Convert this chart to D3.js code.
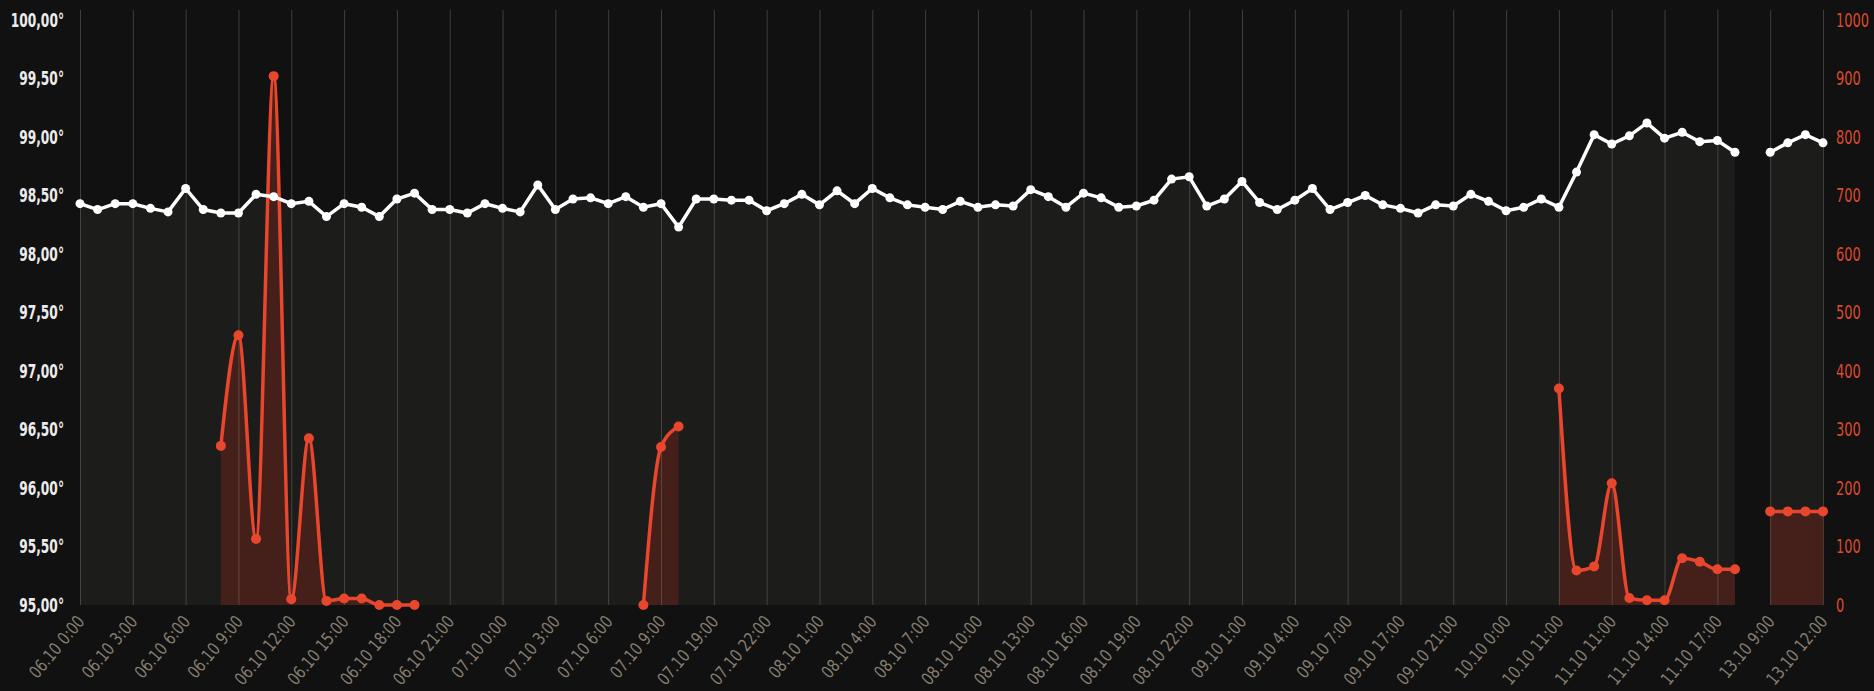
<!DOCTYPE html>
<html>
<head>
<meta charset="utf-8">
<script src="https://cdn.jsdelivr.net/npm/d3@7/dist/d3.min.js"></script>
<style>
  body { margin: 0; background: #111111; }
  svg { display: block; }
  .lbl { font-family: "DejaVu Sans Condensed", "DejaVu Sans", sans-serif; }
</style>
</head>
<body>
<svg id="chart" width="1874" height="691"></svg>
<script>
// tick labels, one for every third reading
var tickLabels = [
  "06.10 0:00", "06.10 3:00", "06.10 6:00", "06.10 9:00", "06.10 12:00", "06.10 15:00",
  "06.10 18:00", "06.10 21:00", "07.10 0:00", "07.10 3:00", "07.10 6:00", "07.10 9:00",
  "07.10 19:00", "07.10 22:00", "08.10 1:00", "08.10 4:00", "08.10 7:00", "08.10 10:00",
  "08.10 13:00", "08.10 16:00", "08.10 19:00", "08.10 22:00", "09.10 1:00", "09.10 4:00",
  "09.10 7:00", "09.10 17:00", "09.10 21:00", "10.10 0:00", "10.10 11:00", "11.10 11:00",
  "11.10 14:00", "11.10 17:00", "13.10 9:00", "13.10 12:00"
];

// temperature readings (left axis)
var temperature = [
  98.43, 98.38, 98.43, 98.43, 98.39, 98.36, 98.56, 98.38, 98.35, 98.35,
  98.51, 98.49, 98.43, 98.45, 98.32, 98.43, 98.40, 98.32, 98.47, 98.52,
  98.38, 98.38, 98.35, 98.43, 98.39, 98.36, 98.59, 98.38, 98.47, 98.48,
  98.43, 98.49, 98.40, 98.43, 98.23, 98.47, 98.47, 98.46, 98.46, 98.37,
  98.43, 98.51, 98.42, 98.54, 98.43, 98.56, 98.48, 98.42, 98.40, 98.38,
  98.45, 98.40, 98.42, 98.41, 98.55, 98.49, 98.40, 98.52, 98.48, 98.40,
  98.41, 98.46, 98.64, 98.66, 98.41, 98.47, 98.62, 98.44, 98.38, 98.46,
  98.56, 98.38, 98.44, 98.50, 98.42, 98.39, 98.35, 98.42, 98.41, 98.51,
  98.45, 98.37, 98.40, 98.47, 98.40, 98.70, 99.02, 98.94, 99.01, 99.12,
  98.99, 99.04, 98.96, 98.97, 98.87, null, 98.87, 98.95, 99.02, 98.95
];

// second series (right axis), null where nothing was recorded
var activity = [
  null, null, null, null, null, null, null, null, 272, 461,
  113, 904, 10, 285, 7, 11, 11, 0, 0, 0,
  null, null, null, null, null, null, null, null, null, null,
  null, null, 0, 270, 305, null, null, null, null, null,
  null, null, null, null, null, null, null, null, null, null,
  null, null, null, null, null, null, null, null, null, null,
  null, null, null, null, null, null, null, null, null, null,
  null, null, null, null, null, null, null, null, null, null,
  null, null, null, null, 370, 59, 66, 208, 12, 8,
  8, 80, 74, 61, 61, null, 160, 160, 160, 160
];

var leftTicks = [95, 95.5, 96, 96.5, 97, 97.5, 98, 98.5, 99, 99.5, 100];
var rightTicks = [0, 100, 200, 300, 400, 500, 600, 700, 800, 900, 1000];

var svg = d3.select("#chart");
var plotTop = 10, plotBottom = 605, plotLeft = 80, plotRight = 1823;

var x = d3.scalePoint().domain(d3.range(temperature.length)).range([plotLeft, plotRight]);
var yL = d3.scaleLinear().domain([95, 100]).range([plotBottom, 20]);
var yR = d3.scaleLinear().domain([0, 1000]).range([plotBottom, 20]);

var idx = temperature.map(function(d, i) { return i; });
var tickIdx = tickLabels.map(function(d, i) { return i * 3; });

// filled areas first
var tempArea = d3.area()
  .defined(function(i) { return temperature[i] != null; })
  .x(function(i) { return x(i); })
  .y0(plotBottom)
  .y1(function(i) { return yL(temperature[i]); });

var actArea = d3.area()
  .curve(d3.curveMonotoneX)
  .defined(function(i) { return activity[i] != null; })
  .x(function(i) { return x(i); })
  .y0(plotBottom)
  .y1(function(i) { return yR(activity[i]); });

svg.append("path").attr("d", tempArea(idx)).attr("fill", "#1c1c1b");
svg.append("path").attr("d", actArea(idx)).attr("fill", "#45201a");

// vertical grid, one line per label
svg.append("g")
  .attr("transform", "translate(0," + plotBottom + ")")
  .call(d3.axisBottom(x).tickValues(tickIdx).tickSize(-(plotBottom - plotTop)).tickFormat(""))
  .call(function(g) {
    g.select(".domain").remove();
    g.selectAll("line").attr("stroke", "rgba(115,105,95,0.5)");
  });

// x labels
var xAxis = svg.append("g")
  .attr("transform", "translate(0," + plotBottom + ")")
  .call(d3.axisBottom(x).tickValues(tickIdx).tickSize(0)
    .tickFormat(function(d) { return tickLabels[d / 3]; }));
xAxis.select(".domain").remove();
xAxis.selectAll("text")
  .attr("class", "lbl")
  .attr("font-size", 17.5)
  .attr("fill", "#857d70")
  .attr("text-anchor", "end")
  .attr("dy", null)
  .attr("y", 0)
  .attr("transform", "translate(5,17) rotate(-50) scale(0.88,1)");

// left axis
var yLeft = svg.append("g")
  .attr("transform", "translate(" + 64 + ",0)")
  .call(d3.axisLeft(yL).tickValues(leftTicks).tickSize(0).tickPadding(0)
    .tickFormat(function(d) { return d3.format(".2f")(d).replace(".", ",") + "\u00b0"; }));
yLeft.select(".domain").remove();
yLeft.selectAll("text")
  .attr("class", "lbl")
  .attr("font-size", 20)
  .attr("font-weight", "bold")
  .attr("fill", "#ececec")
  .attr("transform", "scale(0.68,1)");

// right axis
var yRight = svg.append("g")
  .attr("transform", "translate(" + 1836 + ",0)")
  .call(d3.axisRight(yR).tickValues(rightTicks).tickSize(0).tickPadding(0)
    .tickFormat(d3.format("d")));
yRight.select(".domain").remove();
yRight.selectAll("text")
  .attr("class", "lbl")
  .attr("font-size", 19)
  .attr("fill", "#d94a2e")
  .attr("transform", "scale(0.76,1)");

// lines and markers
var actLine = d3.line()
  .curve(d3.curveMonotoneX)
  .defined(function(i) { return activity[i] != null; })
  .x(function(i) { return x(i); })
  .y(function(i) { return yR(activity[i]); });

svg.append("path")
  .attr("d", actLine(idx))
  .attr("fill", "none")
  .attr("stroke", "#e8472e")
  .attr("stroke-width", 3.5);

svg.append("g").selectAll("circle")
  .data(idx.filter(function(i) { return activity[i] != null; }))
  .enter().append("circle")
  .attr("cx", function(i) { return x(i); })
  .attr("cy", function(i) { return yR(activity[i]); })
  .attr("r", 5)
  .attr("fill", "#e8472e");

var tempLine = d3.line()
  .defined(function(i) { return temperature[i] != null; })
  .x(function(i) { return x(i); })
  .y(function(i) { return yL(temperature[i]); });

svg.append("path")
  .attr("d", tempLine(idx))
  .attr("fill", "none")
  .attr("stroke", "#ffffff")
  .attr("stroke-width", 3.5);

svg.append("g").selectAll("circle")
  .data(idx.filter(function(i) { return temperature[i] != null; }))
  .enter().append("circle")
  .attr("cx", function(i) { return x(i); })
  .attr("cy", function(i) { return yL(temperature[i]); })
  .attr("r", 4.5)
  .attr("fill", "#ffffff");
</script>
</body>
</html>
